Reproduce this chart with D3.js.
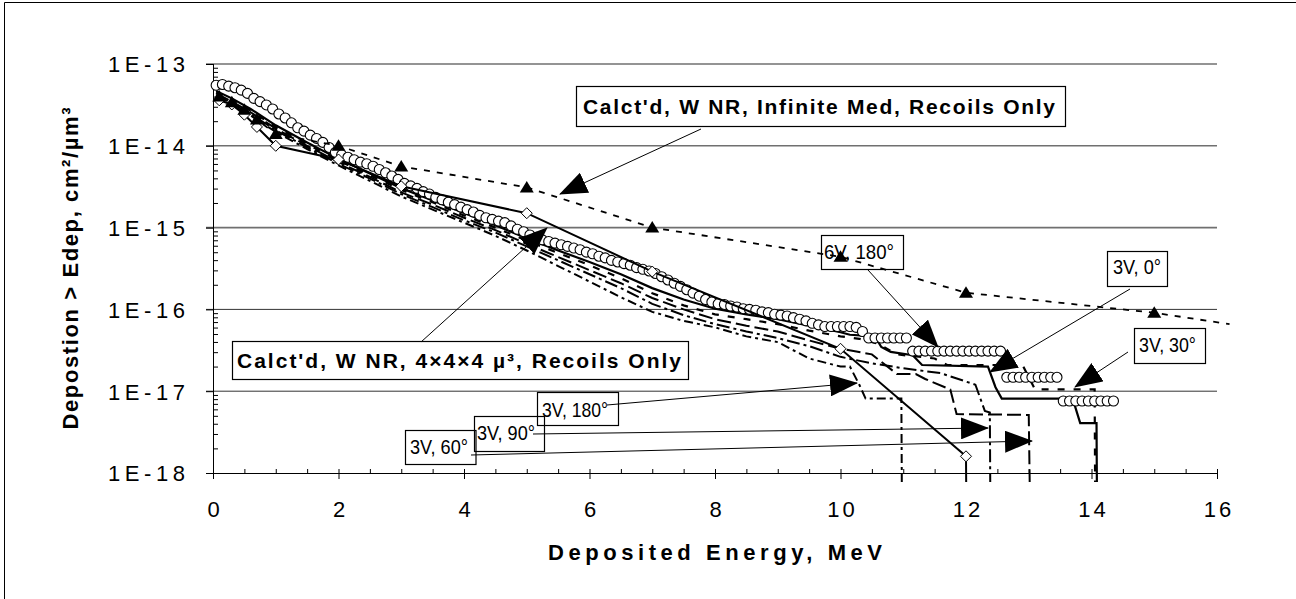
<!DOCTYPE html>
<html>
<head>
<meta charset="utf-8">
<script src="https://cdn.jsdelivr.net/npm/d3@7/dist/d3.min.js"></script>
<style>
  body { margin: 0; background: #fff; }
  svg { display: block; }
  text { font-family: "Liberation Sans", Arial, sans-serif; fill: #000; }
</style>
</head>
<body>
<svg id="chart" width="1296" height="599"></svg>
<script>
// ---- data ----
var xTicks = [0, 2, 4, 6, 8, 10, 12, 14, 16];
var yTicks = [1e-18, 1e-17, 1e-16, 1e-15, 1e-14, 1e-13];
var yTickLabels = ['1E-18', '1E-17', '1E-16', '1E-15', '1E-14', '1E-13'];

// 6V, 180 deg (open circles)
var circX = [
  0.05, 0.15, 0.25, 0.35, 0.45, 0.55, 0.65, 0.75, 0.85, 0.95,
  1.05, 1.15, 1.25, 1.35, 1.45, 1.55, 1.65, 1.75, 1.85, 1.95,
  2.05, 2.15, 2.25, 2.35, 2.45, 2.55, 2.65, 2.75, 2.85, 2.95,
  3.05, 3.15, 3.25, 3.35, 3.45, 3.55, 3.65, 3.75, 3.85, 3.95,
  4.05, 4.15, 4.25, 4.35, 4.45, 4.55, 4.65, 4.75, 4.85, 4.95,
  5.05, 5.15, 5.25, 5.35, 5.45, 5.55, 5.65, 5.75, 5.85, 5.95,
  6.05, 6.15, 6.25, 6.35, 6.45, 6.55, 6.65, 6.75, 6.85, 6.95,
  7.05, 7.15, 7.25, 7.35, 7.45, 7.55, 7.65, 7.75, 7.85, 7.95,
  8.05, 8.15, 8.25, 8.35, 8.45, 8.55, 8.65, 8.75, 8.85, 8.95,
  9.05, 9.15, 9.25, 9.35, 9.45, 9.55, 9.65, 9.75, 9.85, 9.95,
  10.05, 10.15, 10.25, 10.35, 10.45, 10.55, 10.65, 10.75, 10.85, 10.95,
  11.05, 11.15, 11.25, 11.35, 11.45, 11.55, 11.65, 11.75, 11.85, 11.95,
  12.05, 12.15, 12.25, 12.35, 12.45, 12.55, 12.65, 12.75, 12.85, 12.95,
  13.05, 13.15, 13.25, 13.35, 13.45, 13.55, 13.65, 13.75, 13.85, 13.95,
  14.05, 14.15, 14.25, 14.35
];
var circY = [
  5.50e-14, 5.62e-14, 5.37e-14, 5.13e-14, 4.79e-14, 4.37e-14, 3.80e-14, 3.47e-14, 3.16e-14, 2.82e-14,
  2.45e-14, 2.19e-14, 1.91e-14, 1.66e-14, 1.51e-14, 1.35e-14, 1.23e-14, 1.10e-14, 9.55e-15, 8.32e-15,
  7.76e-15, 7.24e-15, 6.76e-15, 6.31e-15, 6.03e-15, 5.62e-15, 5.13e-15, 4.68e-15, 4.27e-15, 3.89e-15,
  3.47e-15, 3.24e-15, 3.02e-15, 2.75e-15, 2.57e-15, 2.34e-15, 2.19e-15, 2.04e-15, 1.91e-15, 1.78e-15,
  1.66e-15, 1.55e-15, 1.41e-15, 1.32e-15, 1.26e-15, 1.20e-15, 1.15e-15, 1.05e-15, 9.55e-16, 8.91e-16,
  8.13e-16, 7.59e-16, 7.08e-16, 6.76e-16, 6.46e-16, 6.17e-16, 5.89e-16, 5.62e-16, 5.37e-16, 5.01e-16,
  4.79e-16, 4.47e-16, 4.27e-16, 3.98e-16, 3.80e-16, 3.63e-16, 3.47e-16, 3.24e-16, 3.09e-16, 2.95e-16,
  2.75e-16, 2.51e-16, 2.29e-16, 2.09e-16, 1.91e-16, 1.74e-16, 1.58e-16, 1.45e-16, 1.32e-16, 1.23e-16,
  1.17e-16, 1.15e-16, 1.10e-16, 1.07e-16, 1.02e-16, 1.00e-16, 9.77e-17, 9.33e-17, 9.12e-17, 8.71e-17,
  8.51e-17, 8.32e-17, 7.94e-17, 7.59e-17, 7.24e-17, 6.76e-17, 6.46e-17, 6.17e-17, 6.17e-17, 6.17e-17,
  6.17e-17, 6.17e-17, 6.03e-17, 5.37e-17, 4.47e-17, 4.47e-17, 4.47e-17, 4.47e-17, 4.47e-17, 4.47e-17,
  4.47e-17, 3.09e-17, 3.09e-17, 3.09e-17, 3.09e-17, 3.09e-17, 3.09e-17, 3.09e-17, 3.09e-17, 3.09e-17,
  3.09e-17, 3.09e-17, 3.09e-17, 3.09e-17, 3.09e-17, 3.09e-17, 1.48e-17, 1.48e-17, 1.48e-17, 1.48e-17,
  1.48e-17, 1.48e-17, 1.48e-17, 1.48e-17, 1.48e-17, 7.59e-18, 7.59e-18, 7.59e-18, 7.59e-18, 7.59e-18,
  7.59e-18, 7.59e-18, 7.59e-18, 7.59e-18
];

// Calct'd, infinite medium (filled triangles, dashed)
var infX = [0.1, 0.3, 0.5, 0.7, 1, 2, 3, 5, 7, 10, 12, 15, 16.2];
var infY = [4.0e-14, 3.4e-14, 2.75e-14, 2.1e-14, 1.39e-14, 1.0e-14, 5.6e-15, 3.1e-15, 1.0e-15, 4.4e-16, 1.6e-16, 9.1e-17, 6.6e-17];

// Calct'd, 4x4x4 um^3 (open diamonds, solid)
var cubeX = [0.1, 0.3, 0.5, 0.7, 1, 2, 3, 5, 7, 10, 12, 12.02];
var cubeY = [3.6e-14, 3.2e-14, 2.4e-14, 1.7e-14, 1.0e-14, 6.8e-15, 3.2e-15, 1.5e-15, 2.9e-16, 3.3e-17, 1.6e-18, 1e-20];

// 3V curves
var v0X = [0.05, 0.3, 0.6, 1, 1.5, 2, 2.5, 3, 3.5, 4, 4.5, 5, 5.5, 6, 6.5, 7, 7.5, 8, 8.5, 9, 9.5, 10,
  10.15, 10.55, 10.65, 10.8, 11.15, 11.3, 12.35, 12.47, 12.57, 13.7, 13.82, 14.08, 14.1];
var v0Y = [4.68e-14, 3.80e-14, 2.82e-14, 1.78e-14, 1.10e-14, 6.92e-15, 4.57e-15, 3.02e-15, 2.14e-15, 1.51e-15,
  1.07e-15, 7.41e-16, 5.25e-16, 3.80e-16, 2.69e-16, 1.82e-16, 1.32e-16, 1.02e-16, 8.71e-17, 7.59e-17, 6.31e-17, 5.25e-17,
  4.90e-17, 4.68e-17, 3.47e-17, 3.02e-17, 2.75e-17, 2.09e-17, 2.00e-17, 1.12e-17, 8.13e-18, 8.13e-18, 4.07e-18, 4.07e-18, 1e-20];

var v30X = [0.05, 0.3, 0.6, 1, 1.5, 2, 2.5, 3, 3.5, 4, 4.5, 5, 5.5, 6, 6.5, 7, 7.5, 8, 8.5, 9, 9.5, 10,
  10.3, 10.6, 10.9, 11.5, 11.7, 12.9, 13.1, 14.05, 14.07];
var v30Y = [4.47e-14, 3.63e-14, 2.69e-14, 1.70e-14, 1.05e-14, 6.61e-15, 4.37e-15, 2.88e-15, 2.04e-15, 1.41e-15,
  1.00e-15, 6.92e-16, 4.90e-16, 3.47e-16, 2.40e-16, 1.58e-16, 1.12e-16, 8.71e-17, 7.59e-17, 6.61e-17, 5.50e-17, 4.68e-17,
  4.37e-17, 3.80e-17, 2.82e-17, 2.51e-17, 2.09e-17, 2.09e-17, 1.05e-17, 1.05e-17, 1e-20];

var v60X = [0.05, 0.3, 0.6, 1, 1.5, 2, 2.5, 3, 3.5, 4, 4.5, 5, 5.5, 6, 6.5, 7, 7.5, 8, 8.5, 9, 9.5, 10,
  10.5, 10.9, 11.2, 11.35, 11.75, 11.85, 13.0, 13.05];
var v60Y = [4.37e-14, 3.47e-14, 2.57e-14, 1.62e-14, 1.00e-14, 6.31e-15, 4.17e-15, 2.69e-15, 1.91e-15, 1.32e-15,
  9.33e-16, 6.31e-16, 4.37e-16, 3.02e-16, 2.09e-16, 1.38e-16, 1.00e-16, 7.59e-17, 6.31e-17, 5.37e-17, 4.17e-17, 3.31e-17,
  2.82e-17, 1.62e-17, 1.62e-17, 1.41e-17, 1.05e-17, 5.25e-18, 5.13e-18, 1e-20];

var v90X = [0.05, 0.3, 0.6, 1, 1.5, 2, 2.5, 3, 3.5, 4, 4.5, 5, 5.5, 6, 6.5, 7, 7.5, 8, 8.5, 9, 9.5, 10,
  10.5, 11.0, 11.6, 12.15, 12.3, 12.38, 12.4];
var v90Y = [4.17e-14, 3.31e-14, 2.45e-14, 1.55e-14, 9.55e-15, 6.03e-15, 3.98e-15, 2.57e-15, 1.78e-15, 1.23e-15,
  8.71e-16, 5.89e-16, 3.98e-16, 2.69e-16, 1.82e-16, 1.17e-16, 8.51e-17, 6.61e-17, 5.37e-17, 4.47e-17, 3.55e-17, 2.63e-17,
  2.19e-17, 1.91e-17, 1.66e-17, 1.20e-17, 5.75e-18, 5.50e-18, 1e-20];

var v180X = [0.05, 0.3, 0.6, 1, 1.5, 2, 2.5, 3, 3.5, 4, 4.5, 5, 5.5, 6, 6.5, 7, 7.5, 8, 8.5, 9, 9.5, 10,
  10.15, 10.3, 10.4, 10.97, 10.99];
var v180Y = [3.98e-14, 3.16e-14, 2.34e-14, 1.48e-14, 9.12e-15, 5.75e-15, 3.72e-15, 2.40e-15, 1.66e-15, 1.15e-15,
  7.94e-16, 5.25e-16, 3.39e-16, 2.19e-16, 1.41e-16, 9.33e-17, 7.24e-17, 6.03e-17, 4.68e-17, 3.98e-17, 2.51e-17, 2.00e-17,
  2.00e-17, 1.20e-17, 8.13e-18, 8.13e-18, 1e-20];

// ---- layout ----
var svg = d3.select('#chart');
var plotL = 213, plotR = 1217, plotT = 64, plotB = 473;

var x = d3.scaleLinear().domain([0, 16]).range([plotL, plotR]);
var y = d3.scaleLog().domain([1e-18, 1e-13]).range([plotB, plotT]);

// chart frame (only left and top edges are in view)
svg.append('path')
  .attr('d', 'M4.5,599 V2.5 H1296')
  .attr('fill', 'none')
  .attr('stroke', '#000')
  .attr('stroke-width', 1);

var defs = svg.append('defs');
defs.append('clipPath').attr('id', 'plotClip')
  .append('rect')
  .attr('x', plotL - 8).attr('y', plotT - 8)
  .attr('width', plotR - plotL + 20).attr('height', plotB - plotT + 17);

defs.append('marker')
  .attr('id', 'arrowHead')
  .attr('viewBox', '0 0 28 22')
  .attr('refX', 27).attr('refY', 11)
  .attr('markerWidth', 28).attr('markerHeight', 22)
  .attr('markerUnits', 'userSpaceOnUse')
  .attr('orient', 'auto')
  .append('path')
  .attr('d', 'M0,0 L28,11 L0,22 Z')
  .attr('fill', '#000');

// gridlines
svg.append('g').selectAll('line')
  .data(yTicks.slice(1))
  .join('line')
  .attr('x1', plotL - 7).attr('x2', plotR)
  .attr('y1', d => y(d)).attr('y2', d => y(d))
  .attr('stroke', d => d >= 1e-15 ? '#707070' : '#333')
  .attr('stroke-width', d => d >= 1e-15 ? 1.6 : 1);

// y axis
var yMinor = [];
yTicks.slice(0, -1).forEach(function(d) {
  for (var k = 2; k <= 9; k++) yMinor.push(d * k);
});

var yAxis = svg.append('g')
  .attr('transform', 'translate(' + plotL + ',0)')
  .call(d3.axisLeft(y).tickValues(yTicks).tickSize(7).tickPadding(21)
    .tickFormat((d, i) => yTickLabels[i]));
yAxis.select('.domain').attr('stroke', '#000').attr('d', 'M0.5,' + plotT + 'V' + plotB);
yAxis.selectAll('.tick line').attr('stroke', '#000');
yAxis.selectAll('.tick text')
  .attr('font-size', 22)
  .attr('font-family', '"Liberation Sans", Arial, sans-serif')
  .attr('dy', '0.36em')
  .attr('textLength', 77)
  .attr('lengthAdjust', 'spacing');

svg.append('g')
  .attr('transform', 'translate(' + plotL + ',0)')
  .call(d3.axisRight(y).tickValues(yMinor).tickSize(5).tickFormat(''))
  .call(g => g.select('.domain').remove())
  .selectAll('.tick line').attr('stroke', '#000');

// x axis
var xMinor = d3.range(0.5, 16, 0.5).filter(d => d % 2 !== 0);
var xAxis = svg.append('g')
  .attr('transform', 'translate(0,' + plotB + ')')
  .call(d3.axisBottom(x).tickValues(xTicks).tickSize(6).tickPadding(22).tickFormat(d3.format('d')));
xAxis.select('.domain').attr('stroke', '#000').attr('d', 'M' + (plotL - 7) + ',0.5H' + plotR);
xAxis.selectAll('.tick line').attr('stroke', '#000').attr('y1', -4).attr('y2', 6);
xAxis.selectAll('.tick text')
  .attr('font-size', 22)
  .attr('font-family', '"Liberation Sans", Arial, sans-serif')
  .attr('letter-spacing', 3)
  .attr('dx', 1.5);

svg.append('g')
  .attr('transform', 'translate(0,' + plotB + ')')
  .call(d3.axisTop(x).tickValues(xMinor).tickSize(4).tickFormat(''))
  .call(g => g.select('.domain').remove())
  .selectAll('.tick line').attr('stroke', '#000');

// axis titles
svg.append('text')
  .attr('x', (plotL + plotR) / 2).attr('y', 560)
  .attr('text-anchor', 'middle')
  .attr('font-size', 22).attr('font-weight', 'bold')
  .attr('textLength', 334).attr('lengthAdjust', 'spacing')
  .text('Deposited Energy, MeV');

svg.append('text')
  .attr('transform', 'translate(78,' + ((plotT + plotB) / 2) + ') rotate(-90)')
  .attr('text-anchor', 'middle')
  .attr('font-size', 22).attr('font-weight', 'bold')
  .attr('textLength', 322).attr('lengthAdjust', 'spacing')
  .text('Depostion > Edep, cm\u00b2/\u00b5m\u00b3');

// ---- series ----
var plot = svg.append('g').attr('clip-path', 'url(#plotClip)');
var lineGen = d3.line().x(d => x(d[0])).y(d => y(d[1]));
var inDomain = d => d[0] >= 0 && d[0] <= 16 && d[1] >= 1e-18 && d[1] <= 1e-13;

var steps = [
  {xs: v180X, ys: v180Y, dash: '9,4,3,4', w: 2},
  {xs: v90X, ys: v90Y, dash: '13,4,3,4', w: 2},
  {xs: v60X, ys: v60Y, dash: '14,5', w: 2},
  {xs: v30X, ys: v30Y, dash: '7,9', w: 2.2},
  {xs: v0X, ys: v0Y, dash: null, w: 2.2}
];
steps.forEach(function(s) {
  plot.append('path')
    .datum(d3.zip(s.xs, s.ys))
    .attr('d', lineGen)
    .attr('fill', 'none')
    .attr('stroke', '#000')
    .attr('stroke-width', s.w)
    .attr('stroke-dasharray', s.dash);
});

// open circles
plot.append('g').selectAll('circle')
  .data(d3.zip(circX, circY))
  .join('circle')
  .attr('cx', d => x(d[0]))
  .attr('cy', d => y(d[1]))
  .attr('r', 5)
  .attr('fill', '#fff')
  .attr('stroke', '#000')
  .attr('stroke-width', 1.1);

// 4x4x4 calc: diamonds + solid line
var cube = d3.zip(cubeX, cubeY);
plot.append('path')
  .datum(cube)
  .attr('d', lineGen)
  .attr('fill', 'none')
  .attr('stroke', '#000')
  .attr('stroke-width', 2);
plot.append('g').selectAll('path')
  .data(cube.filter(inDomain))
  .join('path')
  .attr('transform', d => 'translate(' + x(d[0]) + ',' + y(d[1]) + ')')
  .attr('d', 'M0,-5.5L5.5,0L0,5.5L-5.5,0Z')
  .attr('fill', '#fff')
  .attr('stroke', '#000')
  .attr('stroke-width', 1);

// infinite medium calc: triangles + dashed line (runs past the axis end)
var inf = d3.zip(infX, infY);
svg.append('path')
  .datum(inf)
  .attr('d', lineGen)
  .attr('fill', 'none')
  .attr('stroke', '#000')
  .attr('stroke-width', 1.8)
  .attr('stroke-dasharray', '6,7');
svg.append('g').selectAll('path')
  .data(inf.filter(inDomain))
  .join('path')
  .attr('transform', d => 'translate(' + x(d[0]) + ',' + y(d[1]) + ')')
  .attr('d', 'M0,-6.5L7,5L-7,5Z')
  .attr('fill', '#000');

// ---- callouts ----
var bigBoxes = [
  {text: "Calct'd, W NR, Infinite Med, Recoils Only", box: [576, 86, 1065, 126], tx: 583, ty: 113.5, len: 472},
  {text: "Calct'd, W NR, 4\u00d74\u00d74 \u00b5\u00b3, Recoils Only", box: [232, 341, 688, 379], tx: 237, ty: 367.5, len: 444}
];
var smallBoxes = [
  {text: '6V, 180\u00b0', box: [821, 235, 903, 269], tx: 824, ty: 259, len: 70},
  {text: '3V, 0\u00b0', box: [1107, 251, 1167, 286], tx: 1113, ty: 274, len: 48},
  {text: '3V, 30\u00b0', box: [1134, 328, 1205, 363], tx: 1139, ty: 352, len: 57},
  {text: '3V, 180\u00b0', box: [537, 392, 618, 425], tx: 542, ty: 416.5, len: 66},
  {text: '3V, 90\u00b0', box: [474, 416, 544, 451], tx: 477, ty: 440, len: 58},
  {text: '3V, 60\u00b0', box: [405, 430, 475.5, 464], tx: 410, ty: 453.5, len: 58}
];
var arrows = [
  [701, 129, 560, 194],
  [421, 342, 547, 228],
  [868, 270, 938, 347],
  [1130, 289, 990, 372],
  [1128, 352, 1075, 387],
  [607, 405, 857, 383],
  [533, 434, 988, 428],
  [471, 455, 1032, 441]
];

var notes = svg.append('g');
notes.selectAll('line')
  .data(arrows)
  .join('line')
  .attr('x1', d => d[0]).attr('y1', d => d[1])
  .attr('x2', d => d[2]).attr('y2', d => d[3])
  .attr('stroke', '#000')
  .attr('stroke-width', 1)
  .attr('marker-end', 'url(#arrowHead)');

function drawBoxes(list, font) {
  list.forEach(function(b) {
    notes.append('rect')
      .attr('x', b.box[0] + 0.5).attr('y', b.box[1] + 0.5)
      .attr('width', b.box[2] - b.box[0]).attr('height', b.box[3] - b.box[1])
      .attr('fill', 'none')
      .attr('stroke', '#000')
      .attr('stroke-width', 1.2);
    notes.append('text')
      .attr('x', b.tx).attr('y', b.ty)
      .attr('font-size', font.size)
      .attr('font-weight', font.weight)
      .attr('font-family', font.family)
      .attr('textLength', b.len)
      .attr('lengthAdjust', font.adjust)
      .text(b.text);
  });
}
drawBoxes(bigBoxes, {size: 21, weight: 'bold', family: '"Liberation Sans", Arial, sans-serif', adjust: 'spacing'});
drawBoxes(smallBoxes, {size: 21, weight: 'normal', family: '"Liberation Sans Narrow", "Liberation Sans", Arial, sans-serif', adjust: 'spacingAndGlyphs'});
</script>
</body>
</html>
